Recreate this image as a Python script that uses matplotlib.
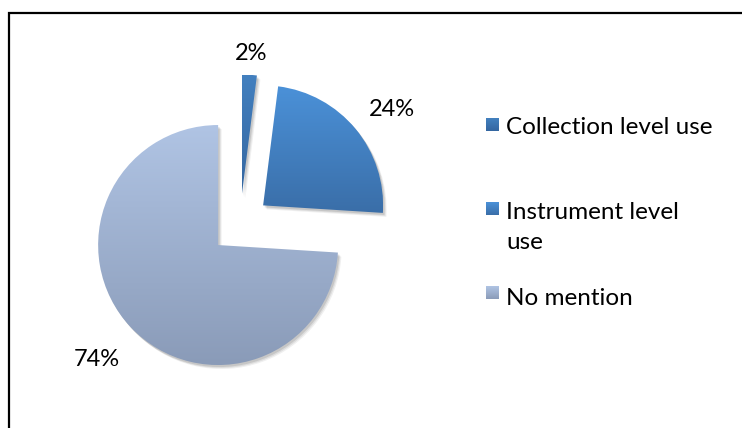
import numpy as np
import matplotlib
matplotlib.use("Agg")
import matplotlib.pyplot as plt
from matplotlib.patches import Wedge, Rectangle
from matplotlib.colors import LinearSegmentedColormap

# Share of mentions by category (percent)
categories = ["Collection level use", "Instrument level\nuse", "No mention"]
values = [2, 24, 74]

# top / bottom gradient colours per slice
grad_top = ["#4380bf", "#4b91d8", "#b0c4e4"]
grad_bottom = ["#3466a0", "#3a6ea8", "#8a9bb8"]

plt.rcParams["font.family"] = ["Lato", "DejaVu Sans"]

W, H = 742, 428
fig = plt.figure(figsize=(W / 100, H / 100), dpi=100)
ax = fig.add_axes([0, 0, 1, 1])

center = (240, 203.5)
radius = 120
explode = [30, 30, 30]   # offsets in data units

wedges, _ = ax.pie(values, explode=explode, startangle=90, counterclock=False,
                   radius=radius, center=center, frame=True,
                   wedgeprops=dict(linewidth=0, edgecolor="none"))
ax.set_xlim(0, W)
ax.set_ylim(0, H)
ax.set_aspect("equal")
ax.axis("off")


def gradient_fill(patch, top, bottom, z):
    ext = patch.get_path().get_extents(patch.get_patch_transform())
    if hasattr(patch, "center"):
        ext = patch.get_path().get_extents()
    cmap = LinearSegmentedColormap.from_list("g", [bottom, top])
    grad = np.linspace(0, 1, 256).reshape(-1, 1)
    im = ax.imshow(grad, cmap=cmap, origin="lower", aspect="auto",
                   extent=(ext.x0, ext.x1, ext.y0, ext.y1), zorder=z)
    im.set_clip_path(patch)
    return im


for i, w in enumerate(wedges):
    # soft drop shadow
    for k, a in enumerate([0.10, 0.08, 0.06]):
        sh = Wedge((w.center[0] + 1.5 + k, w.center[1] - 2.0 - k), w.r,
                   w.theta1, w.theta2, facecolor="#000000", alpha=a,
                   linewidth=0, zorder=1)
        ax.add_patch(sh)
    w.set_zorder(2)
    w.set_facecolor("none")
    gradient_fill(w, grad_top[i], grad_bottom[i], 3)

# percentage labels outside each slice
label_dist = [1.18, 1.34, 1.39]
label_turn = [0, -3, 0]   # small angular nudge, degrees
for i, w in enumerate(wedges):
    mid = np.deg2rad((w.theta1 + w.theta2) / 2 + label_turn[i])
    x = w.center[0] + label_dist[i] * w.r * np.cos(mid)
    y = w.center[1] + label_dist[i] * w.r * np.sin(mid)
    ax.text(x, y, f"{values[i]}%", fontsize=17, ha="center", va="center",
            color="#000000", zorder=5)

# legend
legend_y = [H - 124, H - 208, H - 292]
text_drop = [6, 7, 9]
for i, lab in enumerate(categories):
    sq = Rectangle((485.5, legend_y[i] - 6.5), 13, 13, facecolor="none",
                   linewidth=0, zorder=4)
    ax.add_patch(sq)
    gradient_fill(sq, grad_top[i], grad_bottom[i], 4)
    ax.text(506, legend_y[i] + 13 - text_drop[i], lab, fontsize=17.5,
            ha="left", va="top", color="#000000", linespacing=1.55, zorder=5)

# chart border
fig.add_artist(Rectangle((8.5 / W, -0.1), 1.2, (H - 13.5) / H + 0.1,
                         transform=fig.transFigure, facecolor="none",
                         edgecolor="#000000", linewidth=1.6))

fig.savefig("out.png", dpi=100, facecolor="white")
